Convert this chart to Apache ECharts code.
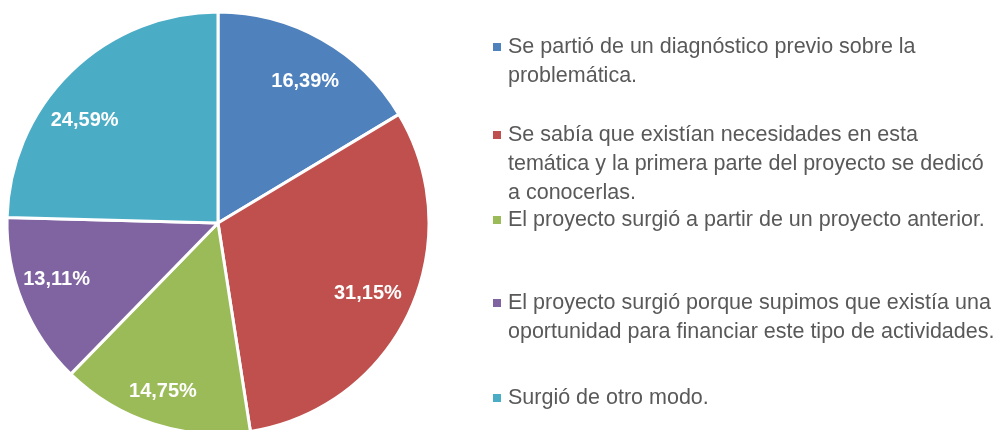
<!DOCTYPE html>
<html>
<head>
<meta charset="utf-8">
<script src="https://cdn.jsdelivr.net/npm/echarts@6/dist/echarts.min.js"></script>
<style>
  html, body { margin: 0; padding: 0; background: #ffffff; }
  #chart { width: 1005px; height: 430px; }
</style>
</head>
<body>
<div id="chart"></div>
<script>
// Answer categories (line breaks as they wrap in the legend)
const categories = [
  'Se partió de un diagnóstico previo sobre la\nproblemática.',
  'Se sabía que existían necesidades en esta\ntemática y la primera parte del proyecto se dedicó\na conocerlas.',
  'El proyecto surgió a partir de un proyecto anterior.',
  'El proyecto surgió porque supimos que existía una\noportunidad para financiar este tipo de actividades.',
  'Surgió de otro modo.'
];
// Share of responses, percent
const shares = [16.39, 31.15, 14.75, 13.11, 24.59];
const colors = ['#4F81BD', '#C0504D', '#9BBB59', '#8064A2', '#4BACC6'];

const FONT = "'Liberation Sans', Arial, sans-serif";
const CENTER = [218, 223];
const R = 211;
const LINE_H = 29;
// vertical centre of each legend entry's first line
const legendFirstLine = [47, 135, 220, 303, 398];
// nudges for percentage labels that sit off the slice bisector
const labelNudge = [[3, 7], [-5, -2], [-3, 6], [-3, -8], [-14, 20]];

const chart = echarts.init(document.getElementById('chart'), null, { renderer: 'canvas' });

// One legend per entry so every square sits beside its first text line
const legends = categories.map((name, i) => {
  const n = name.split('\n').length;
  const total = 2 * n - 1; // blank lines above keep the icon on line one
  return {
    data: [name],
    orient: 'vertical',
    left: 493,
    top: legendFirstLine[i] - total * LINE_H / 2,
    padding: 0,
    itemWidth: 8,
    itemHeight: 8,
    icon: 'rect',
    itemStyle: { borderWidth: 0 },
    selectedMode: false,
    formatter: (nm) => '\n'.repeat(n - 1) + nm,
    textStyle: {
      fontFamily: FONT,
      fontSize: 21.5,
      color: '#595959',
      lineHeight: LINE_H,
      padding: [0, 0, 0, 2]
    }
  };
});

chart.setOption({
  animation: false,
  color: colors,
  legend: legends,
  series: [
    {
      type: 'pie',
      center: CENTER,
      radius: [0, R],
      startAngle: 90,
      clockwise: true,
      silent: true,
      itemStyle: { borderColor: '#ffffff', borderWidth: 3 },
      label: { show: false },
      labelLine: { show: false },
      data: categories.map((c, i) => ({ name: c, value: shares[i] }))
    },
    {
      // transparent ring that only carries the percentage labels
      type: 'pie',
      center: CENTER,
      radius: [125, R],
      startAngle: 90,
      clockwise: true,
      silent: true,
      itemStyle: { color: 'rgba(0,0,0,0)', borderWidth: 0 },
      label: {
        show: true,
        position: 'inside',
        formatter: (p) => p.value.toFixed(2).replace('.', ',') + '%',
        fontFamily: FONT,
        fontSize: 20,
        fontWeight: 'bold',
        color: '#ffffff'
      },
      labelLine: { show: false },
      data: shares.map((v, i) => ({ value: v, label: { offset: labelNudge[i] } }))
    }
  ]
});
</script>
</body>
</html>
